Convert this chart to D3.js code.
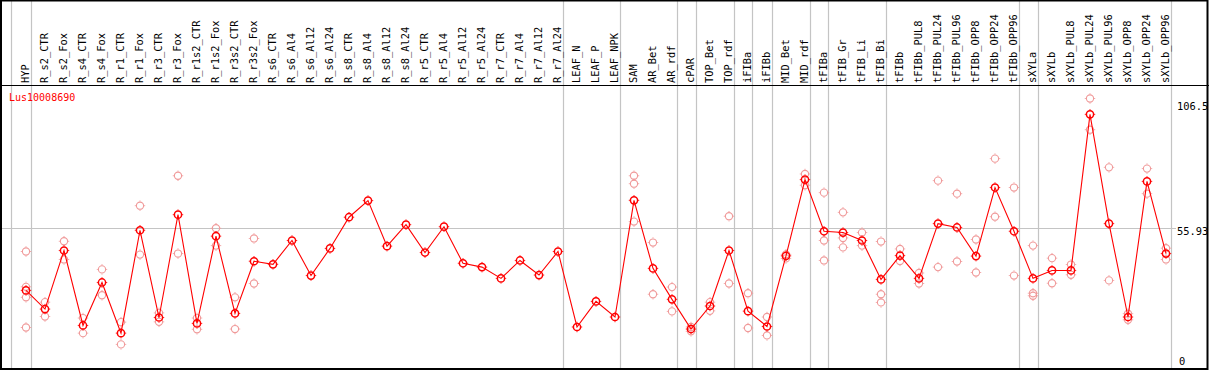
<!DOCTYPE html>
<html>
<head>
<meta charset="utf-8">
<script src="https://cdn.jsdelivr.net/npm/d3@7"></script>
<style>
  html, body { margin: 0; padding: 0; background: #fff; }
  svg { display: block; }
  text { font-family: "DejaVu Sans Mono", "Liberation Mono", monospace; }
</style>
</head>
<body>
<svg id="chart" width="1209" height="370"></svg>
<script>
// ---------- data ----------
const title = "Lus10008690";
const categories = [
  "HYP","R_s2_CTR","R_s2_Fox","R_s4_CTR","R_s4_Fox","R_r1_CTR","R_r1_Fox","R_r3_CTR","R_r3_Fox",
  "R_r1s2_CTR","R_r1s2_Fox","R_r3s2_CTR","R_r3s2_Fox","R_s6_CTR","R_s6_Al4","R_s6_Al12","R_s6_Al24",
  "R_s8_CTR","R_s8_Al4","R_s8_Al12","R_s8_Al24","R_r5_CTR","R_r5_Al4","R_r5_Al12","R_r5_Al24",
  "R_r7_CTR","R_r7_Al4","R_r7_Al12","R_r7_Al24","LEAF_N","LEAF_P","LEAF_NPK","SAM","AR_Bet","AR_rdf",
  "cPAR","TOP_Bet","TOP_rdf","iFIBa","iFIBb","MID_Bet","MID_rdf","tFIBa","tFIB_Gr","tFIB_Li","tFIB_Bi",
  "tFIBb","tFIBb_PUL8","tFIBb_PUL24","tFIBb_PUL96","tFIBb_OPP8","tFIBb_OPP24","tFIBb_OPP96",
  "sXYLa","sXYLb","sXYLb_PUL8","sXYLb_PUL24","sXYLb_PUL96","sXYLb_OPP8","sXYLb_OPP24","sXYLb_OPP96"
];
const meanValues = [
  31.5,24.2,47.1,17.8,34.6,14.8,55.0,20.9,61.1,
  18.6,52.7,22.5,42.9,41.7,51.0,37.3,47.9,
  60.1,66.6,48.8,57.2,46.3,56.4,42.1,40.6,
  36.2,43.2,37.5,46.7,17.2,27.2,21.1,66.7,40.1,28.0,
  16.4,25.4,47.1,23.4,17.4,45.0,74.8,54.6,54.1,51.0,35.8,
  45.1,36.2,57.6,56.1,44.9,71.7,54.6,
  36.2,39.3,39.3,100.3,57.6,21.1,74.1,45.9
];
const replicateValues = [
  [46.7,32.9,28.8,17.0],[26.9,21.3],[50.7,43.6],[20.7,14.8],[39.7,29.6],[19.1,10.4],[64.6,45.5],[22.7,19.2],[76.3,45.9],
  [20.7,16.3],[55.8,49.0],[28.8,16.4],[51.8,34.2],[],[],[],[],
  [],[],[],[],[],[],[],[],
  [],[],[],[],[],[],[],[76.3,73.2,58.4],[50.2,30.0],[32.8,23.3],
  [17.2,15.5],[26.9,23.5],[60.5,34.2],[30.4,16.8],[21.1,13.9],[45.6,44.0],[77.0,72.6],[69.7,51.0,43.2],[62.0,52.0,48.3],[54.1,49.0],[50.6,30.0,26.8],
  [47.7,43.0],[38.3,34.2],[74.4,40.6],[69.3,42.8],[51.4,38.5],[83.0,60.3],[71.7,37.3],
  [49.0,30.4,29.4],[44.1,34.3],[41.6,37.6],[106.5,94.3],[79.6,35.4],[22.4,20.0],[79.1,69.3],[48.0,43.6]
];
// index of the last category of each group (-1 marks the left edge)
const groupEnds = [-1,0,28,31,34,35,37,38,39,41,42,45,52,53,60];
const yTicks = [0, 55.93, 106.5];
const yGridTicks = [55.93];

// ---------- layout ----------
const W = 1209, H = 370;
const headerBottom = 85;
const svg = d3.select("#chart");

const x = d3.scaleLinear().domain([0, categories.length - 1]).range([26, 1166]);
const y = d3.scaleLinear().domain([0, 106.5]).range([371, 98.5]);

const RED = "#ff0000", PINK = "#f09a9a", GRID = "#c4c4c4";

// vertical group separators (full height)
svg.append("g").selectAll("line").data(groupEnds).join("line")
  .attr("x1", d => Math.round(x(d) + 4.5) + 0.5)
  .attr("x2", d => Math.round(x(d) + 4.5) + 0.5)
  .attr("y1", 0).attr("y2", H)
  .attr("stroke", GRID).attr("stroke-width", 1.2);

// horizontal gridline
svg.append("g").selectAll("line").data(yGridTicks).join("line")
  .attr("x1", 2).attr("x2", 1176)
  .attr("y1", d => Math.round(y(d)) + 0.5).attr("y2", d => Math.round(y(d)) + 0.5)
  .attr("stroke", GRID).attr("stroke-width", 1.2);

// header labels
svg.append("g").selectAll("text").data(categories).join("text")
  .attr("transform", (d, i) => `translate(${x(i) + 3.3},83) rotate(-90)`)
  .attr("text-anchor", "start")
  .attr("font-size", "10.4px")
  .attr("fill", "#000")
  .text(d => d);

// header separator and frame
svg.append("line").attr("x1", 0).attr("x2", W).attr("y1", headerBottom + 0.5).attr("y2", headerBottom + 0.5)
  .attr("stroke", "#000").attr("stroke-width", 1.2);
svg.append("rect").attr("x", 1).attr("y", 0.5).attr("width", W - 2.5).attr("height", H - 1.5)
  .attr("fill", "none").attr("stroke", "#000").attr("stroke-width", 2);

// right axis labels
svg.append("g").selectAll("text").data(yTicks).join("text")
  .attr("x", d => d === 0 ? 1179 : 1177)
  .attr("y", d => Math.min(Math.max(y(d) + 7.5, 110), 365))
  .attr("font-size", "10.4px")
  .attr("fill", "#000")
  .text(d => String(d));

// title
svg.append("text").attr("x", 9).attr("y", 101)
  .attr("font-size", "10px").attr("fill", RED).text(title);

// marker helper
function marker(g, cx, cy, color, sw) {
  g.append("circle").attr("cx", cx).attr("cy", cy).attr("r", 3.6)
    .attr("fill", "none").attr("stroke", color).attr("stroke-width", sw);
  const t = [[0,-1],[0,1],[-1,0],[1,0]];
  t.forEach(([dx, dy]) => {
    g.append("line")
      .attr("x1", cx + dx * 4.2).attr("y1", cy + dy * 4.2)
      .attr("x2", cx + dx * 5.2).attr("y2", cy + dy * 5.2)
      .attr("stroke", color).attr("stroke-width", 1);
  });
}

// replicate points
const repG = svg.append("g");
replicateValues.forEach((reps, i) => {
  reps.forEach(v => marker(repG, x(i), y(v), PINK, 1.1));
});

// mean line
const line = d3.line().x((d, i) => x(i)).y(d => y(d));
svg.append("path").datum(meanValues).attr("d", line)
  .attr("fill", "none").attr("stroke", RED).attr("stroke-width", 1.1);

// mean points
const meanG = svg.append("g");
meanValues.forEach((v, i) => marker(meanG, x(i), y(v), RED, 1.5));
</script>
</body>
</html>
